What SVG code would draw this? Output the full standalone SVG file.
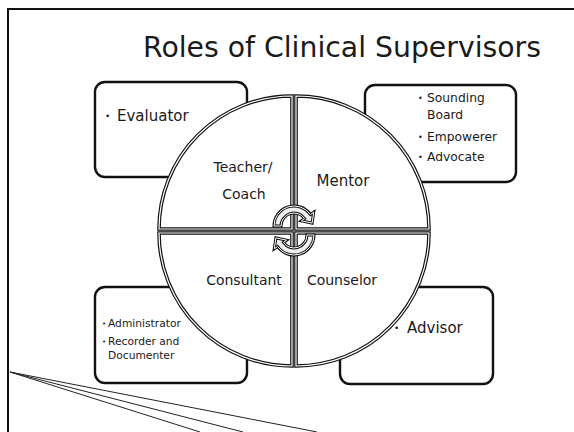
<svg xmlns="http://www.w3.org/2000/svg" xmlns:xlink="http://www.w3.org/1999/xlink" width="574" height="432" viewBox="0 0 574 432">
<style>
  .t { font-family: "DejaVu Sans", Verdana, sans-serif; fill: #1a1a1a; }
  .box { fill: #fff; stroke: #111; stroke-width: 2.4; }
  .boxin { fill: none; stroke: #777; stroke-width: 0.6; }
  .q { fill: #fff; stroke: #111; stroke-width: 3.6; stroke-linejoin: miter; }
  .qin { fill: none; stroke: #fff; stroke-width: 1.2; }
  .arr { fill: #eee; stroke: #111; stroke-width: 3; stroke-linejoin: miter; }
  .arrin { fill: none; stroke: #fff; stroke-width: 1; }
  .frame { fill: none; stroke: #111; stroke-width: 2; }
  .deco { fill: none; stroke: #222; stroke-width: 1; }
</style>
<defs>
  <path id="qTL" d="M292,229 H159 A133,133 0 0 1 292,96 Z"/>
  <path id="qTR" d="M296,229 V96 A133,133 0 0 1 429,229 Z"/>
  <path id="qBR" d="M296,233 H429 A133,133 0 0 1 296,366 Z"/>
  <path id="qBL" d="M292,233 V366 A133,133 0 0 1 159,233 Z"/>
  <path id="arrowUp" d="M274,226 A20,20 0 0 1 310.4,214.5 L313.7,212.2 L312.1,223.1 L301.4,220.8 L304.6,218.5 A13,13 0 0 0 281,226 Z"/>
</defs>
<rect width="574" height="432" fill="#fff"/>
<path class="frame" d="M8,432 V9 H574"/>
<g id="decor-lines">
  <line class="deco" x1="10" y1="372" x2="317" y2="432"/>
  <line class="deco" x1="10" y1="372" x2="243" y2="432"/>
  <line class="deco" x1="10" y1="372" x2="200" y2="432"/>
</g>
<text class="t" x="143" y="57" font-size="28.3">Roles of Clinical Supervisors</text>

<g id="box-evaluator">
  <rect class="box" x="95" y="82" width="152" height="95" rx="10"/>
  <text class="t" x="105" y="119" font-size="9">•</text>
  <text class="t" x="117" y="121" font-size="15">Evaluator</text>
</g>
<g id="box-sounding">
  <rect class="box" x="365" y="85" width="151" height="97" rx="10"/>
  <text class="t" x="418" y="101" font-size="8">•</text>
  <text class="t" x="427" y="102" font-size="12.3">Sounding</text>
  <text class="t" x="427" y="119" font-size="12.3">Board</text>
  <text class="t" x="418" y="140" font-size="8">•</text>
  <text class="t" x="427" y="141" font-size="12.3">Empowerer</text>
  <text class="t" x="418" y="160" font-size="8">•</text>
  <text class="t" x="427" y="161" font-size="12.3">Advocate</text>
</g>
<g id="box-administrator">
  <rect class="box" x="95" y="287" width="152" height="96" rx="10"/>
  <text class="t" x="102" y="326" font-size="7">•</text>
  <text class="t" x="108" y="327" font-size="10.7">Administrator</text>
  <text class="t" x="102" y="344" font-size="7">•</text>
  <text class="t" x="108" y="345" font-size="10.7">Recorder and</text>
  <text class="t" x="108" y="359" font-size="10.7">Documenter</text>
</g>
<g id="box-advisor">
  <rect class="box" x="340" y="287" width="153" height="97" rx="10"/>
  <text class="t" x="394" y="331" font-size="9">•</text>
  <text class="t" x="407" y="333" font-size="15">Advisor</text>
</g>

<g id="quadrant-teacher">
  <use xlink:href="#qTL" class="q"/>
  <use xlink:href="#qTL" class="qin"/>
  <text class="t" x="243" y="172" font-size="14" text-anchor="middle">Teacher/</text>
  <text class="t" x="244" y="199" font-size="14" text-anchor="middle">Coach</text>
</g>
<g id="quadrant-mentor">
  <use xlink:href="#qTR" class="q"/>
  <use xlink:href="#qTR" class="qin"/>
  <text class="t" x="343" y="186" font-size="15" text-anchor="middle">Mentor</text>
</g>
<g id="quadrant-counselor">
  <use xlink:href="#qBR" class="q"/>
  <use xlink:href="#qBR" class="qin"/>
  <text class="t" x="342" y="285" font-size="14" text-anchor="middle">Counselor</text>
</g>
<g id="quadrant-consultant">
  <use xlink:href="#qBL" class="q"/>
  <use xlink:href="#qBL" class="qin"/>
  <text class="t" x="244" y="285" font-size="14" text-anchor="middle">Consultant</text>
</g>

<g id="connectors">
  <use xlink:href="#arrowUp" class="arr"/>
  <use xlink:href="#arrowUp" class="arrin"/>
  <g transform="rotate(180 294 230.5)">
    <use xlink:href="#arrowUp" class="arr"/>
    <use xlink:href="#arrowUp" class="arrin"/>
  </g>
</g>
</svg>
